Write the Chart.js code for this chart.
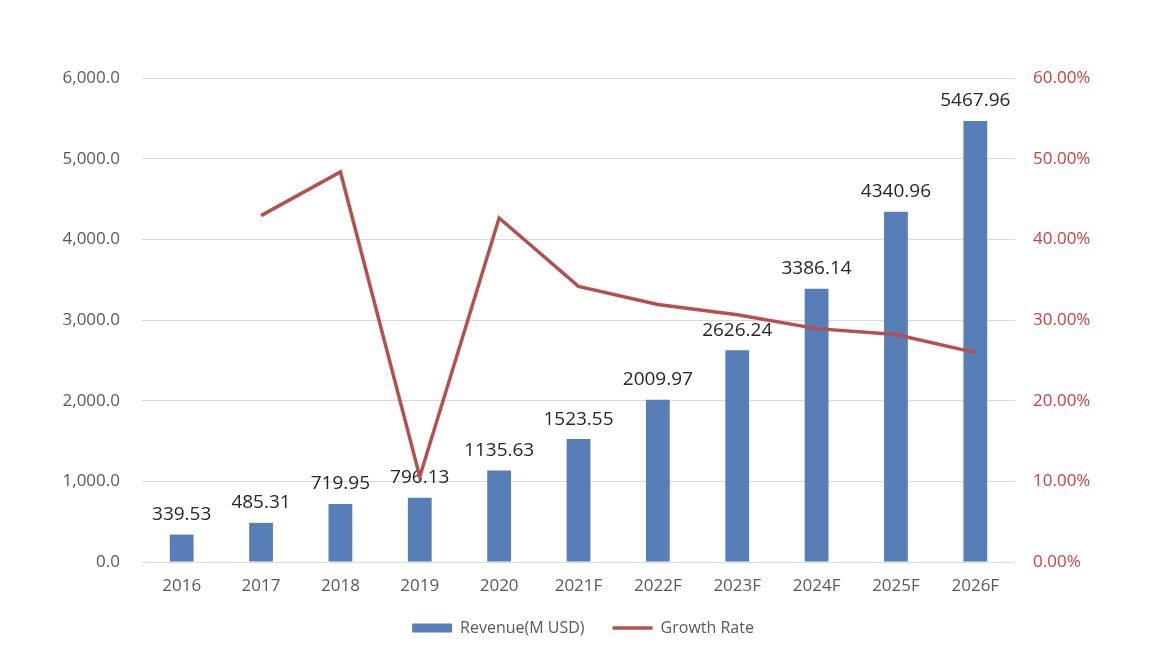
<!DOCTYPE html>
<html>
<head>
<meta charset="utf-8">
<script src="https://cdn.jsdelivr.net/npm/chart.js@4.4.1/dist/chart.umd.min.js"></script>
<style>
html,body{margin:0;padding:0;background:#fff;}
#wrap{width:1166px;height:654px;}
</style>
</head>
<body>
<div id="wrap"><canvas id="c" width="1166" height="654"></canvas></div>
<script>
const categories = ["2016","2017","2018","2019","2020","2021F","2022F","2023F","2024F","2025F","2026F"];
const revenue = [339.53, 485.31, 719.95, 796.13, 1135.63, 1523.55, 2009.97, 2626.24, 3386.14, 4340.96, 5467.96];
const growthRate = [null, 42.94, 48.35, 10.58, 42.64, 34.16, 31.93, 30.66, 28.93, 28.20, 25.96];
const leftTicks = [0, 1000, 2000, 3000, 4000, 5000, 6000];
const rightTicks = [0, 10, 20, 30, 40, 50, 60];

const FONT = "'Open Sans', 'DejaVu Sans', sans-serif";
const BAR_COLOR = '#587EB7';
const LINE_COLOR = '#B4504D';
const TICK_RED = '#C8413F';
const GRAY = '#595959';

const barLabels = {
  id: 'barLabels',
  afterDatasetDraw(chart, args) {
    if (args.index !== 0) return;
    const ctx = chart.ctx;
    ctx.save();
    ctx.font = "19px " + FONT;
    ctx.fillStyle = '#262626';
    ctx.textAlign = 'center';
    ctx.textBaseline = 'middle';
    args.meta.data.forEach((el, i) => {
      ctx.fillText(revenue[i].toFixed(2), el.x, el.y - 20);
    });
    ctx.restore();
  }
};

new Chart(document.getElementById('c'), {
  data: {
    labels: categories,
    datasets: [
      {
        type: 'bar',
        label: 'Revenue(M USD)',
        data: revenue,
        backgroundColor: BAR_COLOR,
        yAxisID: 'y',
        order: 2,
        categoryPercentage: 1,
        barPercentage: 0.3
      },
      {
        type: 'line',
        label: 'Growth Rate',
        data: growthRate,
        borderColor: LINE_COLOR,
        backgroundColor: LINE_COLOR,
        borderWidth: 3.5,
        pointRadius: 0,
        tension: 0,
        yAxisID: 'y1',
        order: 1
      }
    ]
  },
  plugins: [barLabels],
  options: {
    responsive: false,
    animation: false,
    layout: { padding: { top: 78, bottom: 8, left: 0, right: 0 } },
    plugins: {
      tooltip: { enabled: false },
      legend: {
        position: 'bottom',
        labels: {
          font: { family: FONT, size: 16 },
          color: GRAY,
          usePointStyle: true,
          pointStyleWidth: 40,
          boxHeight: 9,
          padding: 28,
          generateLabels(chart) {
            return chart.data.datasets.map((ds, i) => ({
              text: ds.label,
              fillStyle: ds.type === 'bar' ? BAR_COLOR : LINE_COLOR,
              strokeStyle: ds.type === 'bar' ? BAR_COLOR : LINE_COLOR,
              lineWidth: ds.type === 'bar' ? 0 : 3.5,
              pointStyle: ds.type === 'bar' ? 'rect' : 'line',
              fontColor: GRAY,
              datasetIndex: i,
              hidden: false
            }));
          }
        }
      }
    },
    scales: {
      x: {
        grid: { display: false, drawTicks: false },
        border: { display: false },
        ticks: { font: { family: FONT, size: 17 }, color: GRAY, padding: 14 },
        afterFit(s) { s.height = 30; }
      },
      y: {
        position: 'left',
        min: 0, max: 6000,
        afterBuildTicks(s) { s.ticks = leftTicks.map(v => ({ value: v })); },
        grid: { color: '#D9D9D9', lineWidth: 1, drawTicks: false },
        border: { display: false },
        ticks: {
          font: { family: FONT, size: 17 }, color: GRAY, padding: 22,
          callback: v => v.toLocaleString('en-US', { minimumFractionDigits: 1, maximumFractionDigits: 1 })
        },
        afterFit(s) { s.width = 142; }
      },
      y1: {
        position: 'right',
        min: 0, max: 60,
        afterBuildTicks(s) { s.ticks = rightTicks.map(v => ({ value: v })); },
        grid: { display: false, drawTicks: false },
        border: { display: false },
        ticks: {
          font: { family: FONT, size: 17 }, color: TICK_RED, padding: 18,
          callback: v => v.toFixed(2) + '%'
        },
        afterFit(s) { s.width = 151; }
      }
    }
  }
});
</script>
</body>
</html>
